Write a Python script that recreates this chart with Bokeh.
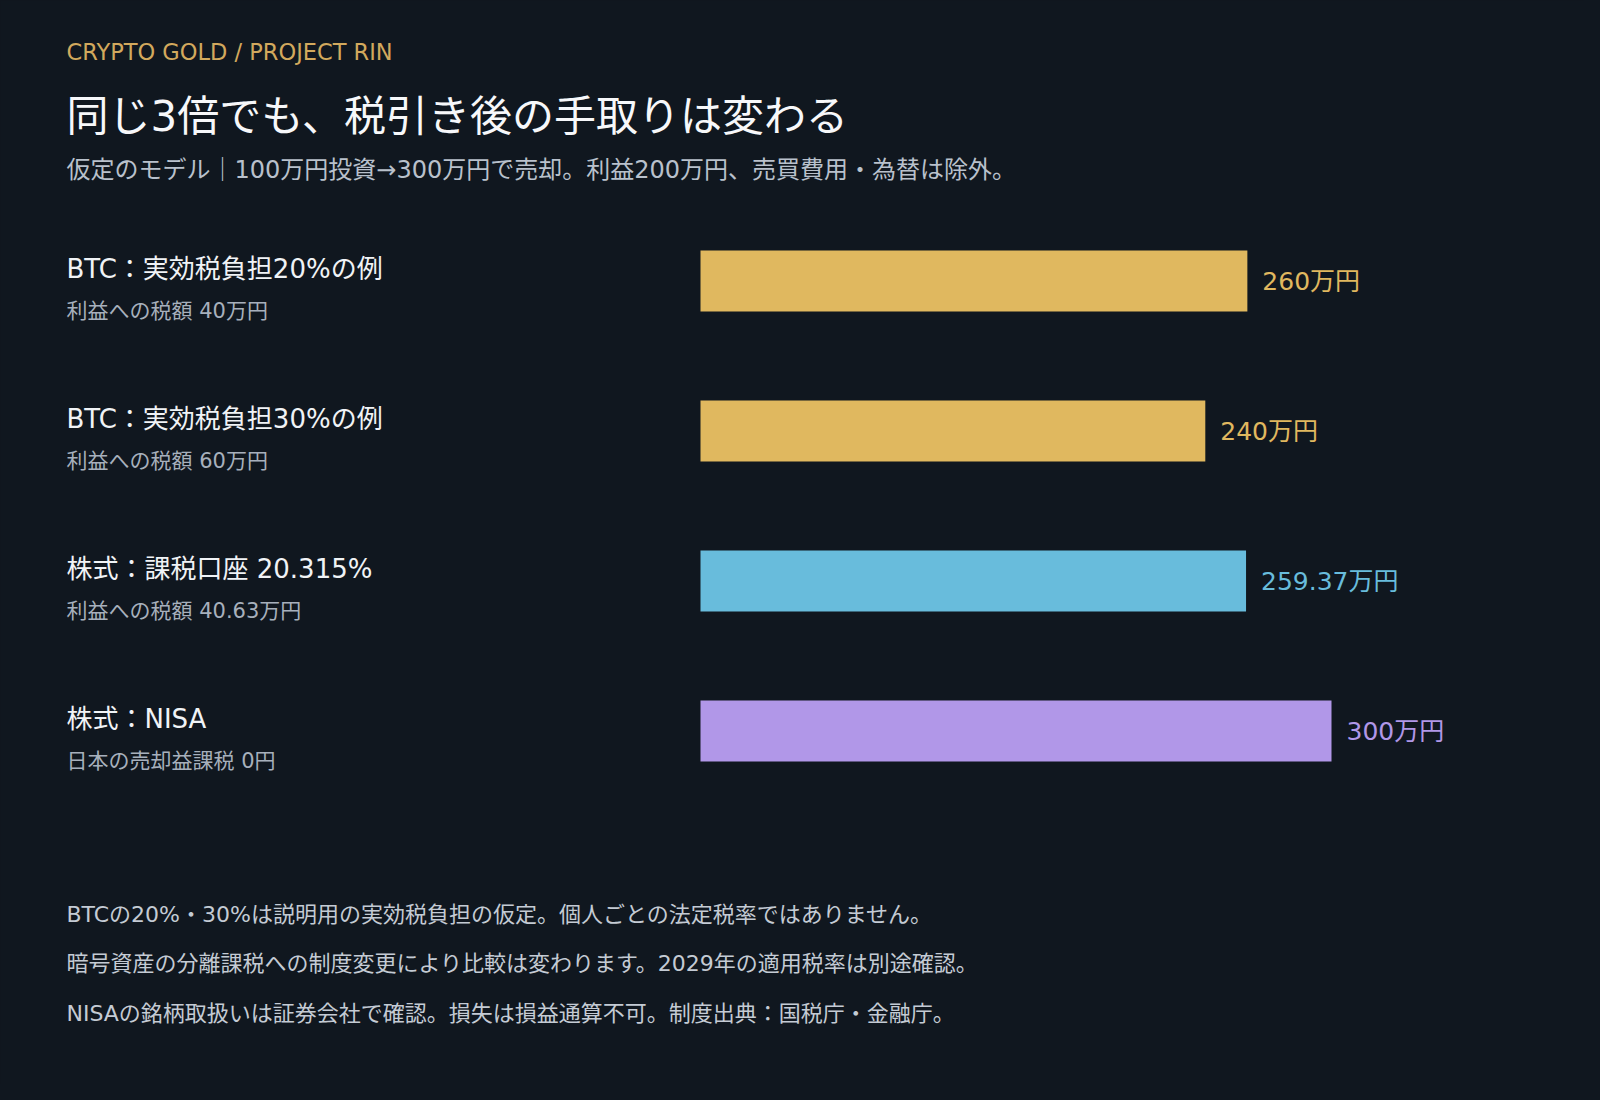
from bokeh.core.properties import value
from bokeh.embed import file_html
from bokeh.models import ColumnDataSource, Label, Range1d
from bokeh.plotting import figure
from bokeh.resources import INLINE

# --- data -----------------------------------------------------------------
row_labels = [
    "BTC：実効税負担20%の例",
    "BTC：実効税負担30%の例",
    "株式：課税口座 20.315%",
    "株式：NISA",
]
row_notes = [
    "利益への税額 40万円",
    "利益への税額 60万円",
    "利益への税額 40.63万円",
    "日本の売却益課税 0円",
]
net_values = [260, 240, 259.37, 300]   # 税引き後の手取り（万円）

kicker = "CRYPTO GOLD / PROJECT RIN"
title = "同じ3倍でも、税引き後の手取りは変わる"
subtitle = "仮定のモデル｜100万円投資→300万円で売却。利益200万円、売買費用・為替は除外。"
footnotes = [
    "BTCの20%・30%は説明用の実効税負担の仮定。個人ごとの法定税率ではありません。",
    "暗号資産の分離課税への制度変更により比較は変わります。2029年の適用税率は別途確認。",
    "NISAの銘柄取扱いは証券会社で確認。損失は損益通算不可。制度出典：国税庁・金融庁。",
]

# --- style ----------------------------------------------------------------
BG = "#10171f"
BAR_COLORS = ["#e0b85f", "#e0b85f", "#68bcdc", "#b197e8"]
FONT = "DejaVu Sans, Noto Sans CJK JP"
W, H = 1584, 1084
LEFT = 66                      # left edge of all texts

PX_PER_UNIT = 631 / 300.0
X0 = 700                       # canvas x of value 0
ROW_STEP = 150.0
ROW0 = 280.5                   # canvas y of first bar centre

x_start = -X0 / PX_PER_UNIT
x_end = (W - X0) / PX_PER_UNIT
y_top = -ROW0 / ROW_STEP
y_bottom = (H - ROW0) / ROW_STEP

rows = list(range(len(row_labels)))
source = ColumnDataSource(data=dict(
    y=rows,
    value=net_values,
    label=row_labels,
    note=row_notes,
    vlabel=[f"{v:g}万円" for v in net_values],
    color=BAR_COLORS,
    lx=[x_start] * len(rows),
))

p = figure(
    width=W, height=H,
    x_range=Range1d(x_start, x_end),
    y_range=Range1d(y_bottom, y_top),
    output_backend="svg",
    toolbar_location=None,
    tools="",
    x_axis_location=None,
    y_axis_location=None,
    min_border=0,
)
p.background_fill_color = BG
p.border_fill_color = BG
p.outline_line_color = None
p.xgrid.grid_line_color = None
p.ygrid.grid_line_color = None

# bars
p.hbar(y="y", left=0, right="value", height=61 / ROW_STEP, source=source,
       fill_color="color", line_color=None)

# value labels right of bars
p.text(x="value", y="y", text="vlabel", source=source, x_offset=15,
       text_color="color", text_font=value(FONT), text_font_size="25px",
       text_baseline="middle", text_align="left")

# row labels on the left
p.text(x="lx", y="y", text="label", source=source, x_offset=LEFT, y_offset=-12,
       text_color="#f0f3f6", text_font=value(FONT), text_font_size="26px",
       text_baseline="middle", text_align="left")
p.text(x="lx", y="y", text="note", source=source, x_offset=LEFT, y_offset=29.5,
       text_color="#a7b0bc", text_font=value(FONT), text_font_size="21px",
       text_baseline="middle", text_align="left")


def add_label(text, cy, size, color):
    p.add_layout(Label(x=LEFT, y=H - cy, x_units="screen", y_units="screen",
                       text=text, text_font=FONT, text_font_size=size,
                       text_color=color, text_baseline="middle",
                       text_align="left"))


add_label(kicker, 51.5, "22.5px", "#d2a95d")
add_label(title, 116, "42px", "#f7f8fa")
add_label(subtitle, 169.5, "24px", "#b9c1cc")
for i, note in enumerate(footnotes):
    add_label(note, 913.5 + i * 49.5, "22px", "#c4cbd4")

html = file_html(p, INLINE)
html = html.replace("<body>", f'<body style="background-color:{BG};">')
open("out.html", "w").write(html)
